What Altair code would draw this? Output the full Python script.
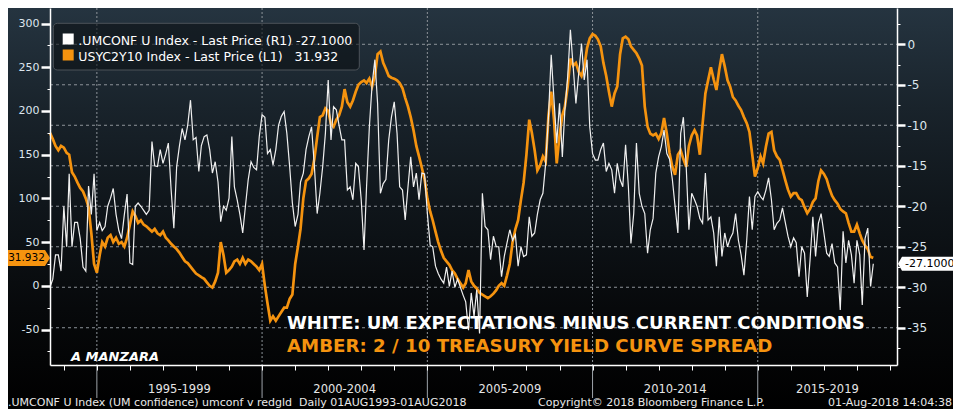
import altair as alt
import pandas as pd

FONT = "DejaVu Sans"
ORANGE = "#f5930f"
WHITE = "#f0f0f0"
LABEL = "#dde6ee"
GRID = "#8d9399"

# ---------------- data: monthly, Aug-1993 .. Jul-2018 ----------------
# USYC2Y10 (2s10s spread, bp) -> left axis (L1)
s1993 = [175, 168, 160, 155, 160]
s1994 = [158, 152, 150, 130, 125, 118, 112, 108, 100, 90, 60, 25]
s1995 = [15, 35, 50, 45, 55, 58, 50, 55, 48, 50, 45, 55]
s1996 = [70, 85, 80, 72, 75, 70, 68, 65, 62, 65, 60, 58]
s1997 = [62, 55, 52, 48, 45, 42, 38, 33, 28, 26, 22, 18]
s1998 = [14, 12, 10, 8, 4, 0, -2, 5, 15, 50, 35, 15]
s1999 = [18, 22, 28, 30, 25, 32, 25, 30, 28, 25, 22, 18]
s2000 = [25, 0, -20, -40, -35, -40, -35, -30, -25, -25, -15, -10]
s2001 = [25, 45, 65, 100, 120, 123, 128, 145, 170, 193, 195, 203]
s2002 = [200, 185, 182, 190, 195, 205, 225, 210, 205, 212, 222, 230]
s2003 = [233, 235, 232, 237, 228, 240, 265, 268, 255, 248, 240, 238]
s2004 = [237, 235, 232, 226, 215, 205, 193, 178, 160, 148, 135, 122]
s2005 = [100, 85, 75, 62, 50, 40, 32, 28, 24, 18, 14, 8]
s2006 = [3, -2, 3, 18, 5, 0, -3, -8, -10, -12, -14, -12]
s2007 = [-9, -5, 0, 3, 0, 12, 25, 50, 65, 75, 98, 118]
s2008 = [150, 190, 175, 155, 132, 138, 148, 142, 195, 222, 190, 140]
s2009 = [172, 195, 205, 228, 260, 252, 255, 245, 240, 250, 272, 283]
s2010 = [288, 286, 282, 274, 255, 240, 222, 205, 220, 228, 265, 283]
s2011 = [285, 282, 274, 270, 266, 260, 252, 205, 182, 174, 172, 174]
s2012 = [168, 175, 192, 174, 152, 136, 127, 150, 155, 145, 136, 160]
s2013 = [172, 178, 172, 150, 185, 220, 235, 250, 236, 224, 247, 265]
s2014 = [251, 235, 228, 216, 212, 206, 201, 193, 186, 176, 150, 125]
s2015 = [135, 148, 140, 159, 174, 176, 155, 148, 144, 133, 121, 110]
s2016 = [102, 106, 106, 100, 98, 90, 83, 88, 96, 100, 120, 132]
s2017 = [128, 122, 112, 103, 98, 94, 88, 85, 83, 72, 62, 62]
s2018 = [70, 60, 52, 46, 42, 33, 31.932]

# .UMCONF (UM expectations minus current conditions) -> right axis (R1)
w1993 = [-30, -29, -26, -26, -28]
w1994 = [-20, -25, -16, -25, -22, -22, -24, -27.5, -28, -17.5, -21, -16]
w1995 = [-23, -22, -23, -22.5, -20, -19, -17.8, -21, -23, -24, -21, -18.5]
w1996 = [-27, -27.2, -20, -19.6, -20, -20.5, -21, -20.5, -12, -15, -15.1, -13]
w1997 = [-14.7, -13.5, -12.2, -18, -22.7, -15.1, -12.6, -10.4, -11.8, -10, -6.9, -11.8]
w1998 = [-11.5, -15.7, -12.5, -11.4, -11.2, -13, -15.9, -14.5, -17, -21.9, -20, -20.5]
w1999 = [-19, -11.4, -17.6, -19.2, -21, -23.3, -20, -16.7, -14.5, -15.2, -15.5, -11.4]
w2000 = [-8.7, -9, -13.5, -13, -14.9, -13, -10, -8.9, -8.3, -11, -15.1, -19.6]
w2001 = [-22.5, -21, -17, -15.9, -13, -11.4, -10.2, -15, -20.9, -18.4, -15.1, -11]
w2002 = [-4.4, -11.8, -7.7, -8.1, -10, -11.8, -11.8, -18, -17.6, -19.2, -14.7, -15.1]
w2003 = [-19.2, -25.4, -17.6, -10.2, -5, -1.9, -7.3, -18.4, -17.2, -16.7, -11.8, -9]
w2004 = [-7.1, -11, -17.6, -18, -21.7, -17.6, -13.9, -17.6, -15.9, -19.2, -15.9, -16]
w2005 = [-20.9, -24.8, -25, -27.4, -28.3, -29, -29.5, -27.5, -29.9, -28, -30, -29]
w2006 = [-30, -31, -31.8, -35.3, -30.7, -33.6, -30.3, -35.7, -18.4, -22.5, -22.9, -26.6]
w2007 = [-23.7, -25, -25, -28.7, -26.2, -24.5, -22.9, -24.2, -23.5, -27.4, -25, -26.2]
w2008 = [-26, -21.3, -23.7, -23.3, -21, -19.2, -18.4, -14.7, -8.9, -1.3, -6.9, -12.2]
w2009 = [-7.3, -13.9, -8.1, -4, 1.8, -2.8, -7.3, -3.6, 0.1, -4.4, -1.9, -10.2]
w2010 = [-13.5, -14.3, -14.3, -13, -12.2, -15.7, -14.7, -15.5, -18.4, -14.7, -16.7, -17.6]
w2011 = [-12.4, -17.6, -24.6, -20.9, -12.2, -18.4, -20, -20.9, -25.8, -22.9, -21.5, -15.9]
w2012 = [-13.9, -12.6, -10.6, -13.5, -14.2, -16.7, -20, -23.3, -11, -9, -15.1, -22.9]
w2013 = [-18.4, -19.2, -20, -21.5, -22.1, -15.9, -21.7, -21.3, -23.3, -27.4, -21.3, -26.2]
w2014 = [-23.3, -25, -24, -23.3, -20.9, -24.2, -26, -28.5, -24.2, -18.8, -22.9, -18.8]
w2015 = [-18.2, -18.8, -19.2, -18, -16.5, -19.2, -22.9, -22.1, -21.7, -20.2, -22, -23.7]
w2016 = [-25, -23.9, -24.5, -28.7, -25, -25.8, -31.2, -26.6, -21.3, -26.2, -22.1, -20.9]
w2017 = [-23.3, -25.8, -26.2, -24.6, -27, -27.5, -32.8, -23.1, -27, -24.2, -26, -29.5]
w2018 = [-24.2, -26, -32.2, -24, -22.7, -29.9, -27.1]

spread = (s1993 + s1994 + s1995 + s1996 + s1997 + s1998 + s1999 + s2000 + s2001 + s2002
          + s2003 + s2004 + s2005 + s2006 + s2007 + s2008 + s2009 + s2010 + s2011 + s2012
          + s2013 + s2014 + s2015 + s2016 + s2017 + s2018)
umconf = (w1993 + w1994 + w1995 + w1996 + w1997 + w1998 + w1999 + w2000 + w2001 + w2002
          + w2003 + w2004 + w2005 + w2006 + w2007 + w2008 + w2009 + w2010 + w2011 + w2012
          + w2013 + w2014 + w2015 + w2016 + w2017 + w2018)
assert len(spread) == len(umconf) == 300

dates = pd.date_range("1993-08-01", periods=len(spread), freq="MS").strftime("%Y-%m-%d").tolist()

LAB_W = ".UMCONF U Index - Last Price (R1)\u00a0-27.1000"
LAB_O = "USYC2Y10 Index - Last Price (L1)\u00a0\u00a0\u00a031.932"

period_dates = ["1997-07-02", "2002-07-02", "2007-07-02", "2012-07-02", "2017-02-09"]
period_labels = ["1995-1999", "2000-2004", "2005-2009", "2010-2014", "2015-2019"]
major_dates = ["1995-01-01", "2000-01-01", "2005-01-01", "2010-01-01", "2015-01-01"]
hgrid_values = [-35, -30, -25, -20, -15, -10, -5, 0]

orange_df = pd.DataFrame({"date": dates, "value": spread})
white_df = pd.DataFrame({"date": dates, "value": umconf})
orange_last = pd.DataFrame({"date": [dates[-1]], "value": [spread[-1]], "txt": ["31.932"]})
white_last = pd.DataFrame({"date": [dates[-1]], "value": [umconf[-1]], "txt": ["-27.1000"]})
period_df = pd.DataFrame({"date": period_dates, "label": period_labels})
major_df = pd.DataFrame({"date": major_dates})
hgrid_df = pd.DataFrame({"g": hgrid_values})

# ---------------- layout ----------------
W, H = 847, 357
PAD = {"left": 42, "top": 0, "right": 56, "bottom": 44}


def dt(y, m, d):
    return alt.DateTime(year=y, month=m, date=d, utc=True)


x_scale = alt.Scale(domain=[dt(1993, 8, 1), dt(2019, 3, 20)])
x_axis = alt.Axis(values=[dt(y, 1, 1) for y in range(1994, 2020)], labels=False,
                  tickSize=5, tickColor="#ffffff", tickWidth=1,
                  domainColor="#ffffff", domainWidth=1.5, grid=False, title=None,
                  orient="bottom", zindex=1)
X = alt.X("date:T", scale=x_scale, axis=x_axis)

yl_scale = alt.Scale(domain=[-90.6, 317.8], nice=False, zero=False)
yl_axis = alt.Axis(orient="left", values=list(range(-75, 301, 25)),
                   labelExpr="datum.value % 50 === 0 ? '' + datum.value : ''",
                   tickSize={"condition": {"test": "datum.value % 50 === 0", "value": 9}, "value": 3},
                   tickWidth={"condition": {"test": "datum.value % 50 === 0", "value": 2.5}, "value": 1},
                   tickColor="#ffffff", domainColor="#ffffff", domainWidth=1.5,
                   labelColor=LABEL, labelFont=FONT, labelFontSize=11, labelPadding=2,
                   grid=False, title=None, zindex=1)
YL = alt.Y("value:Q", scale=yl_scale, axis=yl_axis)

yr_dom = [-39.6, 4.48]
yr_scale = alt.Scale(domain=yr_dom, nice=False, zero=False)
yr_axis = alt.Axis(orient="right", values=[-37.5 + 2.5 * i for i in range(17)],
                   labelExpr="datum.value % 5 === 0 ? '' + datum.value : ''",
                   tickSize={"condition": {"test": "datum.value % 5 === 0", "value": 8}, "value": 3},
                   tickWidth={"condition": {"test": "datum.value % 5 === 0", "value": 2.5}, "value": 1},
                   tickColor="#ffffff", domainColor="#ffffff", domainWidth=1.5,
                   labelColor=LABEL, labelFont=FONT, labelFontSize=12, labelPadding=2,
                   grid=False, title=None, zindex=1)
YR = alt.Y("value:Q", scale=yr_scale, axis=yr_axis)

one = pd.DataFrame({"a": [0]})


def box(x, x2, y, y2, **kw):
    return alt.Chart(one).mark_rect(**kw).encode(
        x=alt.value(x), x2=alt.value(x2), y=alt.value(y), y2=alt.value(y2))


def label(text, x, y, **kw):
    return alt.Chart(pd.DataFrame({"t": [text]})).mark_text(font=FONT, baseline="alphabetic",
                                                            **kw).encode(
        x=alt.value(x), y=alt.value(y), text="t:N")


bg = box(-42, 903, 0, 401, fill={
    "gradient": "linear", "x1": 0, "y1": 0, "x2": 0, "y2": 1,
    "stops": [{"offset": 0, "color": "#253440"},
              {"offset": 0.25, "color": "#19232b"},
              {"offset": 0.5, "color": "#0f151a"},
              {"offset": 0.75, "color": "#07090b"},
              {"offset": 1, "color": "#000000"}]})

vgrid = alt.Chart(major_df).mark_rule(color=GRID, strokeDash=[2, 2], strokeWidth=1).encode(
    x=X, y=alt.value(0), y2=alt.value(H))
vticks = alt.Chart(major_df).mark_rule(color="#9ea4aa", strokeWidth=1).encode(
    x=X, y=alt.value(H), y2=alt.value(H + 33))

hgrid = alt.Chart(hgrid_df).mark_rule(color=GRID, strokeDash=[3, 3], strokeWidth=1).encode(
    y=alt.Y("g:Q", scale=alt.Scale(domain=yr_dom, nice=False, zero=False), axis=None),
    x=alt.value(0), x2=alt.value(W))

PATH_L = "M-1,-0.381L0.762,-0.381L1,0L0.762,0.381L-1,0.381Z"
PATH_R = "M-1,0L-0.855,-0.2545L1,-0.2545L1,0.2545L-0.855,0.2545Z"

orange_line = alt.Chart(orange_df).mark_line(strokeWidth=2.7, color=ORANGE).encode(x=X, y=YL)
orange_tag = alt.Chart(orange_last).mark_point(shape=PATH_L, size=1764, filled=True,
                                               color=ORANGE, opacity=1, strokeWidth=0).encode(
    x=alt.value(-21), y=YL)
orange_txt = alt.Chart(orange_last).mark_text(font=FONT, fontSize=10.5, color="#000000",
                                              align="center", baseline="middle").encode(
    x=alt.value(-23.5), y=YL, text="txt:N")
left_layer = alt.layer(orange_line, orange_tag, orange_txt)

white_line = alt.Chart(white_df).mark_line(strokeWidth=1.2, color=WHITE).encode(x=X, y=YR)
white_tag = alt.Chart(white_last).mark_point(shape=PATH_R, size=3025, filled=True,
                                             color="#ffffff", opacity=1, strokeWidth=0).encode(
    x=alt.value(875.5), y=YR)
white_txt = alt.Chart(white_last).mark_text(font=FONT, fontSize=11, color="#000000",
                                            align="left", baseline="middle").encode(
    x=alt.value(855), y=YR, text="txt:N")
right_layer = alt.layer(white_line, white_tag, white_txt)

period_txt = alt.Chart(period_df).mark_text(font=FONT, fontSize=11.5, color="#e6e6e6",
                                            align="center", baseline="alphabetic").encode(
    x=X, y=alt.value(384.5), text="label:N")

# legend box (top-left)
leg_box = box(3.3, 309.3, 15.3, 62, fill="#0c1014", fillOpacity=0.6, stroke="#4d5359",
              strokeWidth=1, cornerRadius=4)
leg_sq_w = box(12.7, 23.7, 25.5, 36.5, fill="#ffffff")
leg_sq_o = box(12.7, 23.7, 41.5, 52.5, fill=ORANGE)
leg_t_w = label(LAB_W, 28.3, 36.8, fontSize=12.5, color="#ffffff", align="left")
leg_t_o = label(LAB_O, 28.3, 52.8, fontSize=12.5, color="#ffffff", align="left")

ann_white = label("WHITE: UM EXPECTATIONS MINUS CURRENT CONDITIONS", 237, 320.5,
                  fontSize=18, fontWeight="bold", color="#ffffff", align="left")
ann_amber = label("AMBER: 2 / 10 TREASURY YIELD CURVE SPREAD", 237, 343.5,
                  fontSize=18.2, fontWeight="bold", color=ORANGE, align="left")
ann_author = label("A MANZARA", 21, 352.5, fontSize=13, fontWeight="bold",
                   fontStyle="italic", color="#ffffff", align="left")
foot1 = label(".UMCONF U Index (UM confidence) umconf v redgld\u00a0\u00a0Daily 01AUG1993-01AUG2018",
              -42, 398, fontSize=11, color="#e8e8e8", align="left")
foot2 = label("Copyright\u00a9 2018 Bloomberg Finance L.P.", 488, 398, fontSize=11,
              color="#e8e8e8", align="left")
foot3 = label("01-Aug-2018 14:04:38", 902, 398, fontSize=11, color="#e8e8e8", align="right")

chart = alt.layer(
    bg, vgrid, vticks, hgrid, left_layer, right_layer, period_txt,
    leg_box, leg_sq_w, leg_sq_o, leg_t_w, leg_t_o,
    ann_white, ann_amber, ann_author, foot1, foot2, foot3
).resolve_scale(y="independent").properties(
    width=W, height=H, padding=PAD, autosize=alt.AutoSizeParams(type="none"),
    background="#000000"
).configure_view(stroke=None)

chart.save("out.html", embed_options={"renderer": "svg", "actions": False})
